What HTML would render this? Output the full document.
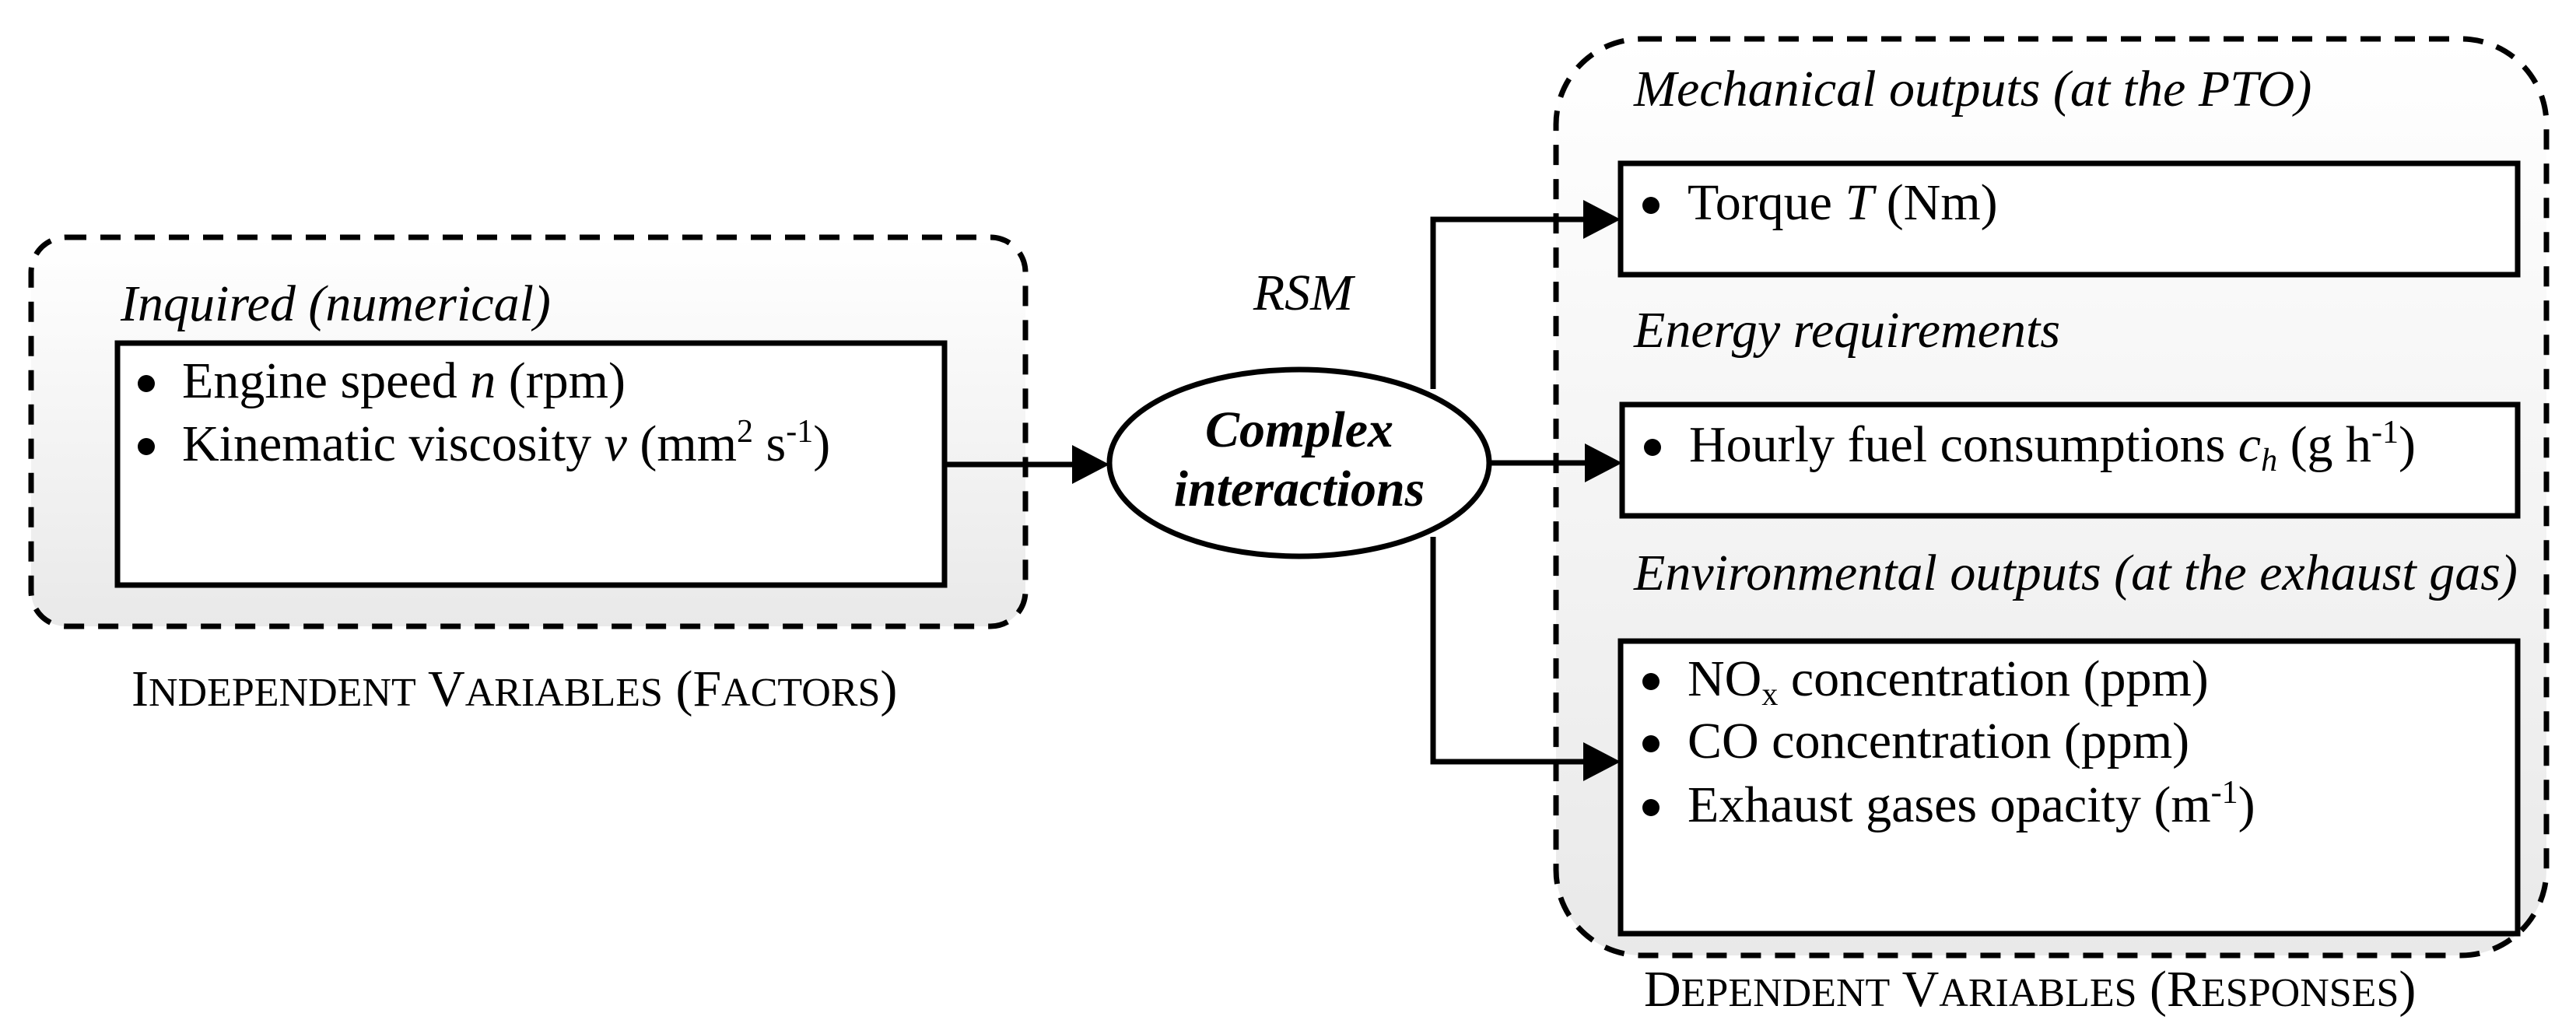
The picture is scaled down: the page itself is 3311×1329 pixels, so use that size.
<!DOCTYPE html>
<html><head><meta charset="utf-8"><style>
html,body{margin:0;padding:0;background:#fff;}
svg{display:block;}
text{font-family:"Liberation Serif",serif;font-size:66px;fill:#000;}
.it{font-style:italic;}
</style></head><body>
<svg width="3311" height="1329" viewBox="0 0 3311 1329" xmlns="http://www.w3.org/2000/svg">
<defs>
<linearGradient id="g" x1="0" y1="0" x2="0" y2="1">
<stop offset="0" stop-color="#ffffff"/><stop offset="1" stop-color="#e9e9e9"/>
</linearGradient>
</defs>

<!-- left group -->
<rect x="40" y="305" width="1278" height="500" rx="45" ry="45" fill="url(#g)" stroke="#000" stroke-width="7" stroke-dasharray="26 18"/>
<text class="it" x="155" y="412">Inquired (numerical)</text>
<rect x="151" y="441" width="1063" height="311" fill="#fff" stroke="#000" stroke-width="7"/>
<circle cx="188" cy="493" r="11"/>
<text x="234" y="511">Engine speed <tspan class="it">n</tspan> (rpm)</text>
<circle cx="188" cy="574" r="11"/>
<text x="234" y="592">Kinematic viscosity <tspan class="it">v</tspan> (mm<tspan font-size="42" dy="-24">2</tspan><tspan dy="24"> s</tspan><tspan font-size="42" dy="-24">-1</tspan><tspan dy="24">)</tspan></text>
<text x="169" y="907">I<tspan font-size="52">NDEPENDENT</tspan> V<tspan font-size="52">ARIABLES</tspan> (F<tspan font-size="52">ACTORS</tspan>)</text>

<!-- right group -->
<rect x="2000" y="50" width="1273" height="1178" rx="110" ry="110" fill="url(#g)" stroke="#000" stroke-width="7" stroke-dasharray="26 18"/>
<text class="it" x="2100" y="136">Mechanical outputs (at the PTO)</text>
<rect x="2083" y="210" width="1153" height="143" fill="#fff" stroke="#000" stroke-width="7"/>
<circle cx="2122" cy="264" r="11"/>
<text x="2169" y="282">Torque <tspan class="it">T</tspan> (Nm)</text>
<text class="it" x="2100" y="446">Energy requirements</text>
<rect x="2085" y="520" width="1151" height="143" fill="#fff" stroke="#000" stroke-width="7"/>
<circle cx="2124" cy="575" r="11"/>
<text x="2171" y="593">Hourly fuel consumptions <tspan class="it">c</tspan><tspan class="it" font-size="42" dy="12">h</tspan><tspan dy="-12"> (g h</tspan><tspan font-size="42" dy="-24">-1</tspan><tspan dy="24">)</tspan></text>
<text class="it" x="2100" y="758">Environmental outputs (at the exhaust gas)</text>
<rect x="2083" y="824" width="1153" height="376" fill="#fff" stroke="#000" stroke-width="7"/>
<circle cx="2122" cy="876" r="11"/>
<text x="2169" y="894">NO<tspan font-size="42" dy="12">x</tspan><tspan dy="-12"> concentration (ppm)</tspan></text>
<circle cx="2122" cy="956" r="11"/>
<text x="2169" y="974">CO concentration (ppm)</text>
<circle cx="2122" cy="1038" r="11"/>
<text x="2169" y="1056">Exhaust gases opacity (m<tspan font-size="42" dy="-24">-1</tspan><tspan dy="24">)</tspan></text>
<text x="2113" y="1293">D<tspan font-size="52">EPENDENT</tspan> V<tspan font-size="52">ARIABLES</tspan> (R<tspan font-size="52">ESPONSES</tspan>)</text>

<!-- connectors -->
<line x1="1214" y1="597" x2="1400" y2="597" stroke="#000" stroke-width="7"/>
<polyline points="1842,500 1842,282 2060,282" fill="none" stroke="#000" stroke-width="7"/>
<polyline points="1842,690 1842,979 2060,979" fill="none" stroke="#000" stroke-width="7"/>
<line x1="1913" y1="595" x2="2060" y2="595" stroke="#000" stroke-width="7"/>
<path d="M2035,257 L2083,282 L2035,307 z"/>
<path d="M2037,570 L2085,595 L2037,620 z"/>
<path d="M2035,954 L2083,979 L2035,1004 z"/>
<path d="M1378,572 L1426,597 L1378,622 z"/>

<ellipse cx="1670" cy="595" rx="244" ry="120" fill="#fff" stroke="#000" stroke-width="7"/>
<text class="it" x="1675" y="398" text-anchor="middle">RSM</text>
<text x="1670" y="574" text-anchor="middle" font-weight="bold" font-style="italic" font-size="68">Complex</text>
<text x="1670" y="650" text-anchor="middle" font-weight="bold" font-style="italic" font-size="68">interactions</text>
</svg>
</body></html>
